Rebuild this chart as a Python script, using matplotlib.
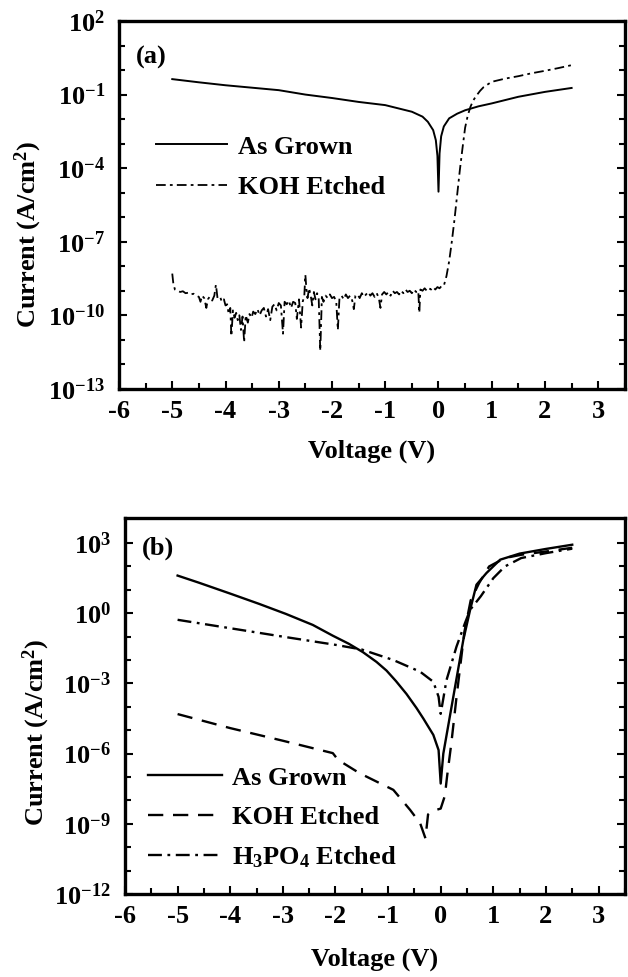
import numpy as np
import matplotlib
matplotlib.use("Agg")
import matplotlib.pyplot as plt
from matplotlib.ticker import FixedLocator, LogFormatterMathtext, MultipleLocator, NullFormatter

plt.rcParams['font.family'] = ['Liberation Serif', 'DejaVu Serif']
plt.rcParams['font.weight'] = 'bold'
plt.rcParams['mathtext.fontset'] = 'custom'
plt.rcParams['mathtext.rm'] = 'Liberation Serif:bold'
plt.rcParams['mathtext.bf'] = 'Liberation Serif:bold'
plt.rcParams['mathtext.it'] = 'Liberation Serif:bold'
plt.rcParams['lines.scale_dashes'] = False
plt.rcParams['axes.unicode_minus'] = False

# ---------------- Panel (a) data ----------------
grown_a_v = [-5.0, -4.5, -4.0, -3.5, -3.0, -2.5, -2.0, -1.5, -1.0, -0.5, -0.3, -0.2, -0.1,
             -0.05, -0.02, 0.0, 0.02, 0.05, 0.1, 0.2, 0.35, 0.5, 0.75, 1.0, 1.5, 2.0, 2.5]
grown_a_log10 = [-0.37, -0.50, -0.62, -0.72, -0.82, -1.00, -1.14, -1.30, -1.43, -1.70, -1.90,
                 -2.11, -2.45, -2.86, -3.50, -4.96, -3.40, -2.70, -2.30, -1.97, -1.78, -1.64,
                 -1.48, -1.36, -1.09, -0.89, -0.73]

koh_a_v = [-5.00, -4.98, -4.95, -4.90, -4.85, -4.80, -4.75, -4.70, -4.65, -4.60, -4.55, -4.50,
           -4.47, -4.44, -4.40, -4.36, -4.33, -4.30, -4.25, -4.21, -4.18, -4.15, -4.10, -4.07,
           -4.03, -4.00, -3.97, -3.94, -3.91, -3.89, -3.86, -3.83, -3.80, -3.77, -3.74, -3.71,
           -3.68, -3.65, -3.62, -3.58, -3.55, -3.51, -3.48, -3.44, -3.40, -3.36, -3.32, -3.28,
           -3.24, -3.20, -3.16, -3.12, -3.08, -3.04, -3.00, -2.96, -2.92, -2.89, -2.85, -2.81,
           -2.77, -2.73, -2.69, -2.66, -2.62, -2.58, -2.55, -2.52, -2.50, -2.48, -2.46, -2.43,
           -2.40, -2.37, -2.34, -2.31, -2.28, -2.25, -2.22, -2.19, -2.16, -2.12, -2.08, -2.04,
           -2.00, -1.96, -1.92, -1.89, -1.86, -1.82, -1.78, -1.74, -1.70, -1.66, -1.62, -1.59,
           -1.56, -1.52, -1.48, -1.44, -1.40, -1.36, -1.32, -1.28, -1.24, -1.20, -1.16, -1.12,
           -1.09, -1.06, -1.02, -0.98, -0.94, -0.90, -0.86, -0.82, -0.78, -0.74, -0.70, -0.66,
           -0.62, -0.58, -0.54, -0.50, -0.46, -0.42, -0.38, -0.36, -0.34, -0.30, -0.26, -0.22,
           -0.18, -0.14, -0.10, -0.06, -0.02, 0.02, 0.06, 0.10, 0.15, 0.20, 0.25, 0.30, 0.35,
           0.40, 0.45, 0.50, 0.55, 0.60, 0.65, 0.70, 0.78, 0.85, 1.00, 1.25, 1.50, 1.75, 2.00,
           2.25, 2.50]
koh_a_log10 = [-8.30, -8.70, -8.95, -9.00, -9.05, -9.02, -9.10, -9.08, -9.15, -9.12, -9.20, -9.25,
               -9.45, -9.20, -9.30, -9.70, -9.35, -9.25, -9.40, -9.20, -8.75, -9.30, -9.25, -9.45,
               -9.35, -9.60, -9.55, -9.95, -9.70, -10.85, -9.80, -10.10, -9.90, -10.20, -10.00, -10.60,
               -10.05, -11.10, -10.00, -10.30, -9.95, -10.10, -9.85, -9.95, -9.75, -10.00, -9.80, -9.70,
               -10.05, -9.75, -10.20, -9.65, -9.55, -9.80, -9.50, -9.60, -10.75, -9.45, -9.55, -9.40,
               -9.70, -9.45, -9.50, -10.15, -9.35, -10.50, -9.45, -9.20, -8.35, -8.95, -9.30, -8.90,
               -9.20, -9.60, -9.05, -9.35, -9.10, -9.30, -11.45, -9.25, -9.45, -9.20, -9.30, -9.15,
               -9.30, -9.25, -9.45, -10.60, -9.30, -9.20, -9.35, -9.15, -9.30, -9.20, -9.40, -9.75,
               -9.20, -9.15, -9.30, -9.10, -9.25, -9.15, -9.05, -9.20, -9.10, -9.25, -9.10, -9.30,
               -9.70, -9.15, -9.05, -9.15, -9.05, -9.20, -9.00, -9.10, -9.05, -9.15, -9.00, -9.10,
               -8.95, -9.05, -9.00, -9.10, -8.95, -9.05, -9.00, -9.90, -8.95, -9.00, -8.90, -9.00,
               -8.90, -8.95, -8.85, -8.95, -8.85, -8.90, -8.80, -8.80, -8.40, -7.80, -7.00, -6.10, -5.10,
               -4.10, -3.20, -2.35, -1.85, -1.50, -1.25, -1.08, -0.85, -0.69, -0.48, -0.35, -0.25, -0.13,
               -0.03, 0.08, 0.20]

# ---------------- Panel (b) data ----------------
grown_b_v = [-5.0, -4.6, -4.0, -3.45, -2.94, -2.43, -2.05, -1.75, -1.48, -1.22, -1.03, -0.85,
             -0.65, -0.46, -0.33, -0.14, -0.04, 0.0, 0.05, 0.24, 0.43, 0.56, 0.68, 0.87, 1.13,
             1.5, 2.0, 2.5]
grown_b_log10 = [1.61, 1.31, 0.84, 0.40, -0.03, -0.50, -0.96, -1.30, -1.66, -2.08, -2.45, -2.90,
                 -3.45, -4.05, -4.50, -5.20, -5.85, -7.28, -6.0, -3.57, -1.14, 0.15, 1.22, 1.72,
                 2.29, 2.55, 2.75, 2.93]

koh_b_v = [-5.0, -4.0, -3.0, -2.05, -1.95, -1.54, -0.9, -0.58, -0.39, -0.29, -0.24, -0.15,
           0.0, 0.08, 0.12, 0.2, 0.3, 0.45, 0.57, 0.73, 0.92, 1.22, 1.53, 2.0, 2.5]
koh_b_log10 = [-4.31, -4.91, -5.45, -5.98, -6.27, -6.84, -7.55, -8.41, -8.98, -9.62, -8.60, -8.45,
               -8.35, -7.80, -7.00, -5.60, -3.60, -0.80, 0.55, 1.29, 2.00, 2.36, 2.50, 2.64, 2.80]

h3po4_b_v = [-5.0, -4.0, -3.0, -2.0, -1.5, -0.9, -0.39, -0.14, -0.04, 0.0, 0.11, 0.3, 0.46,
             0.56, 0.76, 1.0, 1.22, 1.53, 2.0, 2.5]
h3po4_b_log10 = [-0.28, -0.64, -1.00, -1.35, -1.55, -2.00, -2.50, -2.93, -3.57, -4.30, -2.86,
                 -1.43, -0.43, 0.15, 0.72, 1.50, 2.00, 2.36, 2.57, 2.76]

x_ticks = [-6, -5, -4, -3, -2, -1, 0, 1, 2, 3]
a_ylabel_exps = [-13, -10, -7, -4, -1, 2]
b_ylabel_exps = [-12, -9, -6, -3, 0, 3]

TICK_FS = 19
LABEL_FS = 19
LEG_FS = 19

fig = plt.figure(figsize=(6.28, 9.77), dpi=100)
ax_a = fig.add_axes([0.1895, 0.602, 0.8055, 0.3765])
ax_b = fig.add_axes([0.199, 0.085, 0.796, 0.385])


def style_axes(ax, exps, ylim, xpad):
    ax.set_yscale('log')
    ax.set_xlim(-6, 3.5)
    ax.set_ylim(*ylim)
    ax.xaxis.set_major_locator(FixedLocator(x_ticks))
    ax.xaxis.set_minor_locator(MultipleLocator(0.5))
    ax.yaxis.set_major_locator(FixedLocator([10.0 ** e for e in exps]))
    ax.yaxis.set_minor_locator(FixedLocator([10.0 ** e for e in range(exps[0], exps[-1] + 1)]))
    ax.yaxis.set_major_formatter(LogFormatterMathtext())
    ax.yaxis.set_minor_formatter(NullFormatter())
    ax.tick_params(axis='both', which='both', direction='in', width=1.5, top=False, right=True,
                   labelsize=TICK_FS)
    ax.tick_params(axis='both', which='major', length=6)
    ax.tick_params(axis='x', which='major', pad=8)
    ax.tick_params(axis='y', which='major', pad=10)
    ax.tick_params(axis='both', which='minor', length=4)
    for sp in ax.spines.values():
        sp.set_linewidth(2.4)
    ax.set_xlabel('Voltage (V)', fontsize=LABEL_FS, fontweight='bold', labelpad=xpad)


# Panel (a)
style_axes(ax_a, a_ylabel_exps, (1e-13, 1e2), 12)
ax_a.plot(grown_a_v, 10.0 ** np.array(grown_a_log10), color='black', lw=1.4, label='As Grown')
ax_a.plot(koh_a_v, 10.0 ** np.array(koh_a_log10), color='black', lw=1.3,
          dashes=(7, 3, 2, 3), label='KOH Etched')
ax_a.text(0.034, 0.90, '(a)', transform=ax_a.transAxes, fontsize=LEG_FS, fontweight='bold',
          va='center', ha='left')
ax_a.set_ylabel('Current (A/cm$^2$)', fontsize=LABEL_FS, fontweight='bold')
ax_a.yaxis.set_label_coords(-0.148, 0.42)
ax_a.legend(loc='upper left', bbox_to_anchor=(0.073, 0.69), frameon=False, fontsize=LEG_FS,
            handlelength=2.7, handletextpad=0.4, labelspacing=0.65, borderpad=0,
            borderaxespad=0)

# Panel (b)
style_axes(ax_b, b_ylabel_exps, (1e-12, 10 ** 4.08), 14)
ax_b.plot(grown_b_v, 10.0 ** np.array(grown_b_log10), color='black', lw=1.7, label='As Grown')
ax_b.plot(koh_b_v, 10.0 ** np.array(koh_b_log10), color='black', lw=1.7,
          dashes=(11, 7), label='KOH Etched')
ax_b.plot(h3po4_b_v, 10.0 ** np.array(h3po4_b_log10), color='black', lw=1.7,
          dashes=(10, 4, 2, 4), label='H$_3$PO$_4$ Etched')
ax_b.text(0.034, 0.92, '(b)', transform=ax_b.transAxes, fontsize=LEG_FS, fontweight='bold',
          va='center', ha='left')
ax_b.set_ylabel('Current (A/cm$^2$)', fontsize=LABEL_FS, fontweight='bold')
ax_b.yaxis.set_label_coords(-0.145, 0.43)
ax_b.legend(loc='upper left', bbox_to_anchor=(0.046, 0.34), frameon=False, fontsize=LEG_FS,
            handlelength=2.8, handletextpad=0.4, labelspacing=0.6, borderpad=0,
            borderaxespad=0)

fig.savefig('out.png', dpi=100)
